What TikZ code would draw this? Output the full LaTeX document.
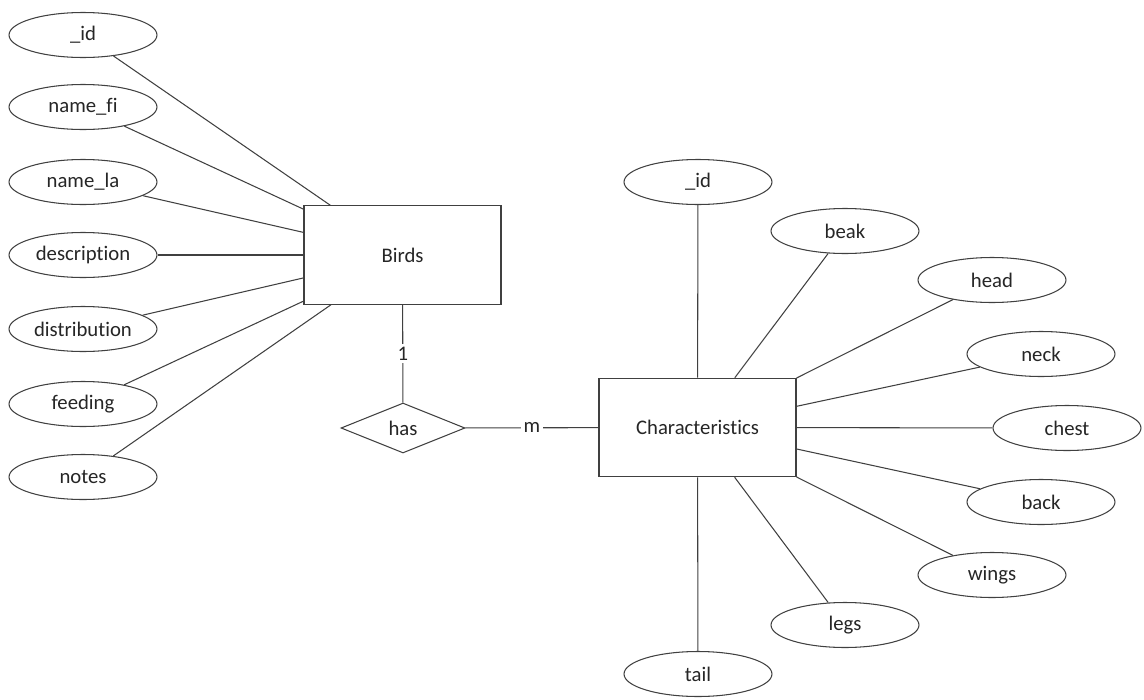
\documentclass[tikz,border=0pt]{standalone}
\usepackage{fontspec}
\setmainfont{Carlito}[Ligatures={NoCommon}]
\usetikzlibrary{shapes.geometric}
\begin{document}
\begin{tikzpicture}[x=0.02cm,y=-0.02cm,
  every node/.style={font=\fontsize{11.8}{14}\selectfont, text=black!85},
  link/.style={draw=black!75, line width=0.6pt},
  attr/.style={ellipse, draw=black!75, line width=0.6pt, fill=white,
    minimum width=2.96cm, minimum height=0.9cm, inner sep=0pt},
  entity/.style={rectangle, draw=black!75, line width=0.6pt, fill=white,
    minimum width=3.94cm, minimum height=1.97cm, inner sep=0pt},
  relation/.style={diamond, draw=black!75, line width=0.6pt, fill=white,
    minimum width=2.48cm, minimum height=1.0cm, inner sep=0pt},
  card/.style={fill=white, inner sep=1.5pt}]
\useasboundingbox (0,0) rectangle (1144,700);

% entities and relationship
\node[entity] (birds) at (402.5,255) {Birds};
\node[entity] (chars) at (697.5,427.5) {Characteristics};
\node[relation] (has) at (403,428) {has};

% attributes of Birds
\node[attr] (bid)   at (83,35)  {\_id};
\node[attr] (bfi)   at (83,107) {name\_fi};
\node[attr] (bla)   at (83,182) {name\_la};
\node[attr] (bdesc) at (83,255) {description};
\node[attr] (bdist) at (83,329) {distribution};
\node[attr] (bfeed) at (83,404) {feeding};
\node[attr] (bnote) at (83,477) {notes};

% attributes of Characteristics
\node[attr] (cid)    at (698,182)  {\_id};
\node[attr] (cbeak)  at (845,231)  {beak};
\node[attr] (chead)  at (992,280)  {head};
\node[attr] (cneck)  at (1041,354) {neck};
\node[attr] (cchest) at (1067,428) {chest};
\node[attr] (cback)  at (1041,502) {back};
\node[attr] (cwings) at (992,575)  {wings};
\node[attr] (clegs)  at (845,625)  {legs};
\node[attr] (ctail)  at (698,674)  {tail};

% connectors
\foreach \a in {bid,bfi,bla,bdesc,bdist,bfeed,bnote}
  \draw[link] (\a) -- (birds);
\foreach \a in {cid,cbeak,chead,cneck,cchest,cback,cwings,clegs,ctail}
  \draw[link] (\a) -- (chars);

\draw[link] (birds) -- node[card] {1} (has);
\draw[link] (has) -- node[card] {m} (chars);
\end{tikzpicture}
\end{document}
